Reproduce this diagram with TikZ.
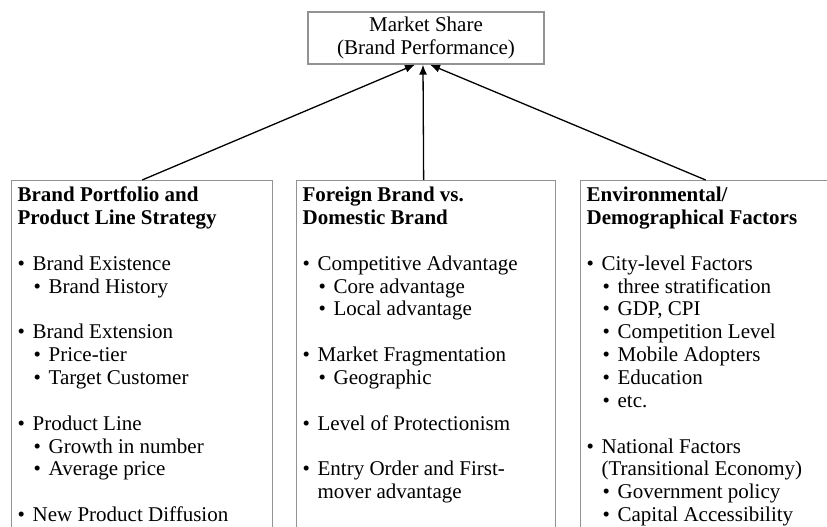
\documentclass[tikz,border=0pt]{standalone}
\usepackage{fontspec}
\setmainfont{Liberation Serif}
\usetikzlibrary{positioning, arrows.meta}

% list items inside the column boxes
\newcommand{\itm}[1]{\par\hangindent=15pt\hangafter=1\noindent\makebox[15pt][l]{\textbullet}#1}
\newcommand{\subitm}[1]{\par\hangindent=31pt\hangafter=1\noindent\hspace*{16pt}\makebox[15pt][l]{\textbullet}#1}
\newcommand{\gap}{\par\vskip\baselineskip}
\newcommand{\colbody}[2]{\parbox[t][380pt][t]{#1}{\raggedright\setlength{\parindent}{0pt}\strut #2}}

\begin{document}
\begin{tikzpicture}[x=1pt, y=-1pt, font=\fontsize{21}{22.86}\selectfont,
    sharebox/.style={draw=gray!85, line width=1.3pt, align=center, minimum width=236pt, minimum height=52pt, inner sep=2pt},
    colbox/.style={draw=gray!85, line width=1.3pt, inner xsep=6pt, inner ysep=5pt},
    link/.style={-{Latex[length=10pt, width=8pt]}, line width=1.3pt}]
    \useasboundingbox (0, 0) rectangle (827, 527);

    \node (share) [sharebox] at (426, 38) {Market Share\\(Brand Performance)};

    \node (portfolio) [colbox, anchor=north west] at (11, 180) {\colbody{249pt}{%
        \textbf{Brand Portfolio and\\Product Line Strategy}\gap
        \itm{Brand Existence}\subitm{Brand History}\gap
        \itm{Brand Extension}\subitm{Price-tier}\subitm{Target Customer}\gap
        \itm{Product Line}\subitm{Growth in number}\subitm{Average price}\gap
        \itm{New Product Diffusion}}};
    \node (foreign) [colbox, right=22.7pt of portfolio] {\colbody{247pt}{%
        \textbf{Foreign Brand vs.\\Domestic Brand}\gap
        \itm{Competitive Advantage}\subitm{Core advantage}\subitm{Local advantage}\gap
        \itm{Market Fragmentation}\subitm{Geographic}\gap
        \itm{Level of Protectionism}\gap
        \itm{Entry Order and First-\newline mover advantage}}};
    \node (environ) [colbox, right=23.7pt of foreign] {\colbody{238pt}{%
        \textbf{Environmental/\\Demographical Factors}\gap
        \itm{City-level Factors}\subitm{three stratification}\subitm{GDP, CPI}%
        \subitm{Competition Level}\subitm{Mobile Adopters}\subitm{Education}\subitm{etc.}\gap
        \itm{National Factors\newline (Transitional Economy)}\subitm{Government policy}\subitm{Capital Accessibility}}};

    \draw [link] (portfolio.north) -- ([xshift=-11pt]share.south);
    \draw [link] ([xshift=-2.5pt]foreign.north) -- ([xshift=-3pt]share.south);
    \draw [link] (environ.north) -- ([xshift=4pt]share.south);
\end{tikzpicture}
\end{document}
